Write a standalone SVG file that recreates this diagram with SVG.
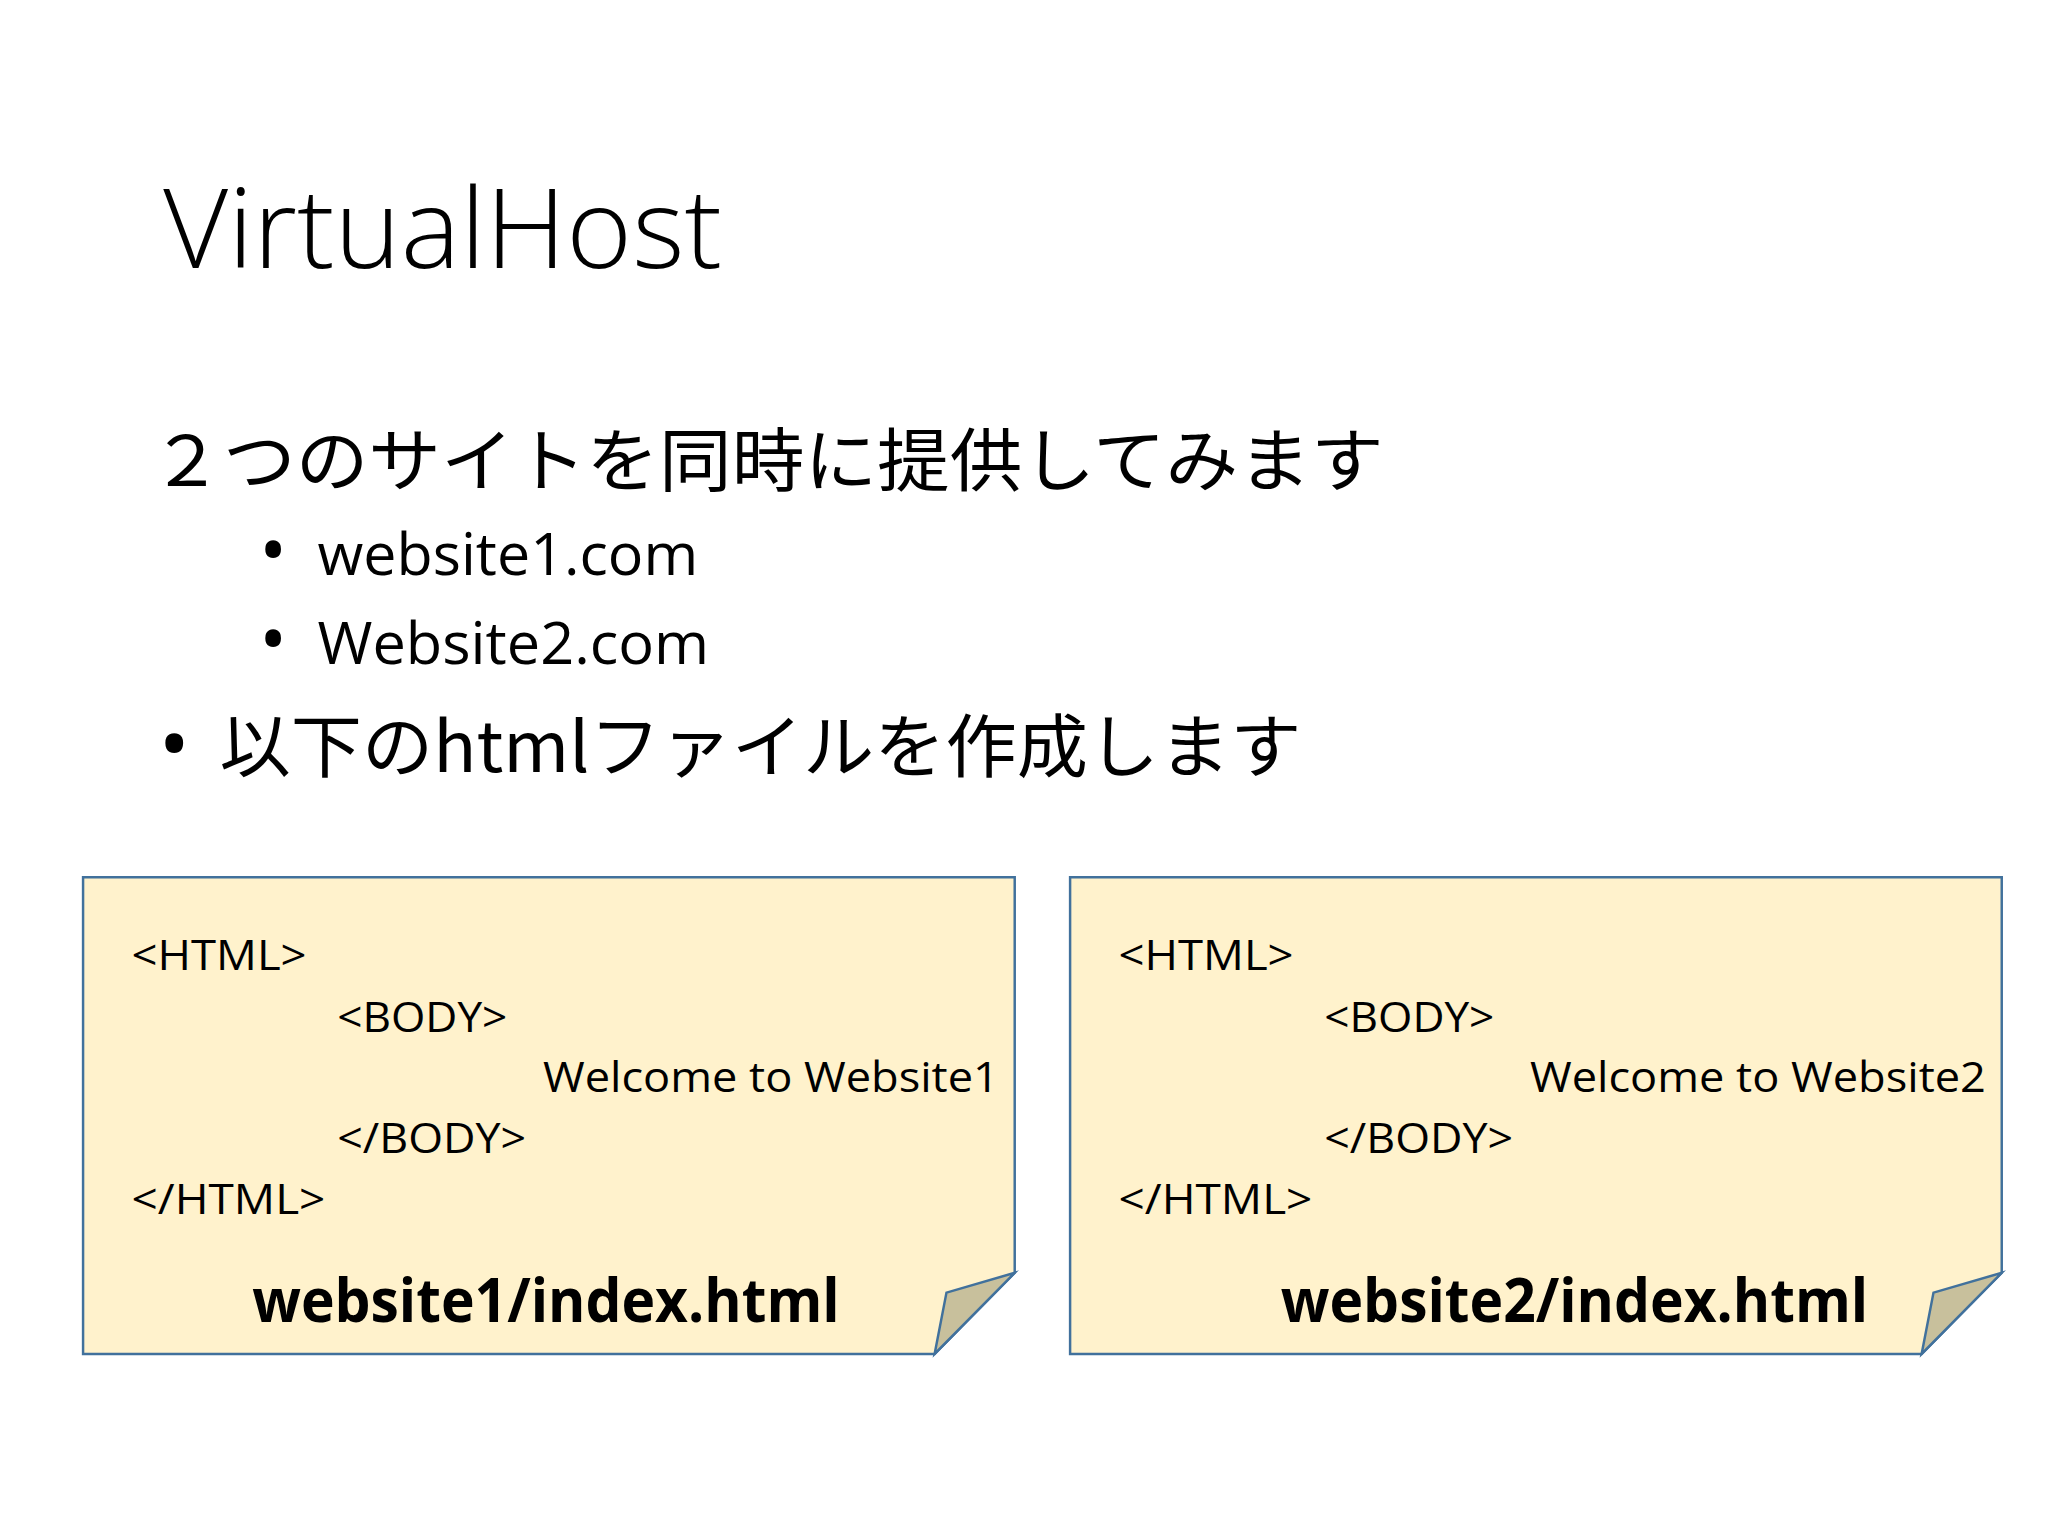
<svg xmlns="http://www.w3.org/2000/svg" width="2048" height="1536" viewBox="0 0 2048 1536">
<style>
text{font-family:"Open Sans","Noto Sans","Noto Sans CJK JP",sans-serif;fill:#000}
.jp{font-family:"Noto Sans CJK JP",sans-serif;font-size:70px}
.code{font-size:42px}
.fn{font-size:62px;font-weight:bold}
.note{fill:#FFF2CC;stroke:#41719C;stroke-width:2.5}
.fold{fill:#C8C09C;stroke:#41719C;stroke-width:2.5}
</style>
<rect width="2048" height="1536" fill="#fff"/>
<g transform="scale(0.989)">
<text x="165" y="271" font-size="112" font-weight="300" textLength="565" lengthAdjust="spacingAndGlyphs">VirtualHost</text>
<text class="jp" x="152" y="491" textLength="1247" lengthAdjust="spacingAndGlyphs">２つのサイトを同時に提供してみます</text>
<text x="262" y="583" font-size="76">•</text>
<text x="321" y="581" font-size="60" textLength="385" lengthAdjust="spacingAndGlyphs">website1.com</text>
<text x="262" y="673" font-size="76">•</text>
<text x="321" y="671" font-size="60" textLength="396" lengthAdjust="spacingAndGlyphs">Website2.com</text>
<text x="160" y="783" font-size="86">•</text>
<text class="jp" x="222" y="781" textLength="1094" lengthAdjust="spacingAndGlyphs">以下のhtmlファイルを作成します</text>
<g id="file1">
<path class="note" d="M84 887H1026V1287L945 1369H84Z"/>
<path class="fold" d="M945 1369L957 1307L1026 1287Z"/>
<text class="code" x="133" y="981" textLength="177" lengthAdjust="spacingAndGlyphs">&lt;HTML&gt;</text>
<text class="code" x="341" y="1043" textLength="172" lengthAdjust="spacingAndGlyphs">&lt;BODY&gt;</text>
<text class="code" x="549" y="1104" textLength="461" lengthAdjust="spacingAndGlyphs">Welcome to Website1</text>
<text class="code" x="341" y="1166" textLength="191" lengthAdjust="spacingAndGlyphs">&lt;/BODY&gt;</text>
<text class="code" x="133" y="1228" textLength="196" lengthAdjust="spacingAndGlyphs">&lt;/HTML&gt;</text>
<text class="fn" x="255" y="1337" textLength="594" lengthAdjust="spacingAndGlyphs">website1/index.html</text>
</g>
<g id="file2">
<path class="note" d="M1082 887H2024V1287L1943 1369H1082Z"/>
<path class="fold" d="M1943 1369L1955 1307L2024 1287Z"/>
<text class="code" x="1131" y="981" textLength="177" lengthAdjust="spacingAndGlyphs">&lt;HTML&gt;</text>
<text class="code" x="1339" y="1043" textLength="172" lengthAdjust="spacingAndGlyphs">&lt;BODY&gt;</text>
<text class="code" x="1547" y="1104" textLength="461" lengthAdjust="spacingAndGlyphs">Welcome to Website2</text>
<text class="code" x="1339" y="1166" textLength="191" lengthAdjust="spacingAndGlyphs">&lt;/BODY&gt;</text>
<text class="code" x="1131" y="1228" textLength="196" lengthAdjust="spacingAndGlyphs">&lt;/HTML&gt;</text>
<text class="fn" x="1295" y="1337" textLength="594" lengthAdjust="spacingAndGlyphs">website2/index.html</text>
</g>
<g id="connectors"/>
</g>
</svg>
